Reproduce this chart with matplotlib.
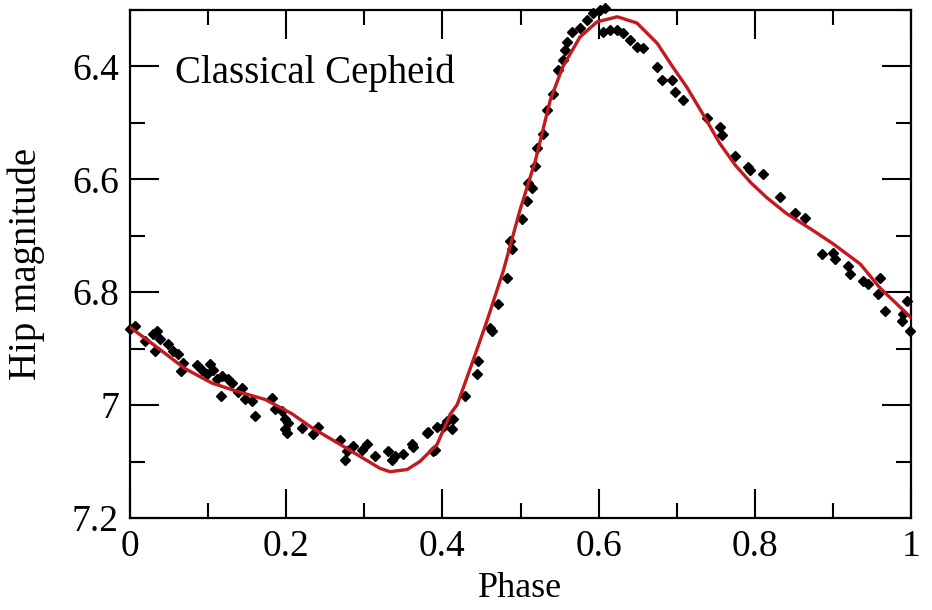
import numpy as np
import matplotlib
matplotlib.use("Agg")
from matplotlib import pyplot as plt
from matplotlib.ticker import MultipleLocator

obs_phase = [0.000, 0.006, 0.019, 0.029, 0.035, 0.032, 0.038, 0.049, 0.055, 0.061,
             0.065, 0.068, 0.086, 0.092, 0.099, 0.102, 0.106, 0.111, 0.118, 0.125,
             0.131, 0.117, 0.138, 0.143, 0.147, 0.156, 0.160, 0.182, 0.186, 0.195,
             0.198, 0.202, 0.198, 0.201,
             0.220, 0.234, 0.241, 0.269, 0.275, 0.278, 0.286, 0.297, 0.303, 0.314,
             0.330, 0.335, 0.339, 0.350, 0.361, 0.362, 0.380, 0.388, 0.393, 0.401,
             0.382, 0.391,
             0.406, 0.414, 0.412, 0.429, 0.444, 0.446, 0.461, 0.464, 0.471, 0.483,
             0.487, 0.489, 0.502, 0.508, 0.510, 0.515, 0.519, 0.521, 0.529, 0.534,
             0.542,
             0.548, 0.554, 0.557, 0.560, 0.566, 0.576, 0.585, 0.593, 0.602, 0.608,
             0.606, 0.615, 0.624, 0.631, 0.640, 0.649, 0.657, 0.675, 0.681, 0.694,
             0.698, 0.708,
             0.739, 0.755, 0.758, 0.775, 0.791, 0.794, 0.810, 0.832, 0.851, 0.864,
             0.886, 0.900, 0.903, 0.919, 0.922, 0.939, 0.945, 0.960, 0.958, 0.967,
             0.988, 0.995, 0.990, 0.999]
obs_mag = [6.865, 6.860, 6.887, 6.874, 6.869, 6.904, 6.883, 6.892, 6.904, 6.910,
           6.940, 6.926, 6.929, 6.937, 6.944, 6.928, 6.937, 6.953, 6.949, 6.954,
           6.961, 6.983, 6.976, 6.970, 6.990, 6.993, 7.020, 6.988, 7.006, 7.011,
           7.025, 7.031, 7.043, 7.050,
           7.041, 7.052, 7.038, 7.061, 7.097, 7.082, 7.073, 7.079, 7.068, 7.091,
           7.082, 7.098, 7.091, 7.086, 7.068, 7.075, 7.050, 7.082, 7.038, 7.038,
           7.047, 7.079,
           7.029, 7.024, 7.043, 6.984, 6.944, 6.922, 6.864, 6.869, 6.821, 6.775,
           6.709, 6.723, 6.670, 6.638, 6.606, 6.615, 6.576, 6.544, 6.519, 6.478,
           6.448,
           6.407, 6.389, 6.371, 6.357, 6.339, 6.332, 6.318, 6.305, 6.300, 6.297,
           6.339, 6.336, 6.336, 6.341, 6.353, 6.366, 6.368, 6.401, 6.424, 6.424,
           6.446, 6.460,
           6.492, 6.508, 6.522, 6.558, 6.579, 6.584, 6.590, 6.632, 6.659, 6.668,
           6.732, 6.730, 6.741, 6.753, 6.768, 6.780, 6.785, 6.775, 6.803, 6.833,
           6.851, 6.816, 6.839, 6.869]

# fitted light curve
fit_phase = [0.000, 0.036, 0.070, 0.105, 0.138, 0.173, 0.207, 0.234, 0.278, 0.320,
             0.333, 0.355, 0.371, 0.393, 0.410, 0.419, 0.439, 0.457, 0.478, 0.499,
             0.519, 0.538, 0.554, 0.576, 0.598, 0.624, 0.649, 0.675, 0.695, 0.713,
             0.735, 0.755, 0.775, 0.795, 0.815, 0.840, 0.875, 0.900, 0.935, 0.960,
             1.000]
fit_mag = [6.862, 6.899, 6.935, 6.961, 6.976, 6.990, 7.015, 7.041, 7.077, 7.112,
           7.118, 7.114, 7.100, 7.070, 7.016, 6.999, 6.922, 6.851, 6.762, 6.656,
           6.567, 6.460, 6.401, 6.348, 6.321, 6.312, 6.323, 6.359, 6.401, 6.437,
           6.488, 6.536, 6.575, 6.606, 6.632, 6.660, 6.691, 6.714, 6.750, 6.792,
           6.845]

x_ticks = [0, 0.2, 0.4, 0.6, 0.8, 1.0]
x_labels = ["0", "0.2", "0.4", "0.6", "0.8", "1"]
y_ticks = [6.4, 6.6, 6.8, 7.0, 7.2]
y_labels = ["6.4", "6.6", "6.8", "7", "7.2"]

plt.rcParams["font.family"] = ["Liberation Serif", "DejaVu Serif"]

fig = plt.figure(figsize=(9.32, 6.10), dpi=100)
ax = fig.add_axes([0.1395, 0.1508, 0.838, 0.8328])

ax.plot(obs_phase, obs_mag, linestyle="none", marker="D", markersize=5.5,
        color="black", clip_on=False, zorder=2)
ax.plot(fit_phase, fit_mag, color="#c41a1f", linewidth=2.4, zorder=3)

ax.set_xlim(0, 1)
ax.set_ylim(7.2, 6.3)
ax.set_xticks(x_ticks)
ax.set_xticklabels(x_labels)
ax.set_yticks(y_ticks)
ax.set_yticklabels(y_labels)
ax.xaxis.set_minor_locator(MultipleLocator(0.1))
ax.yaxis.set_minor_locator(MultipleLocator(0.1))
ax.tick_params(which="both", direction="in", top=True, right=True, width=1.5,
               labelsize=27)
ax.tick_params(which="major", length=21, pad=8)
ax.tick_params(which="minor", length=11)
for s in ax.spines.values():
    s.set_linewidth(1.6)

ax.set_xlabel("Phase", fontsize=26)
ax.set_ylabel("Hip magnitude", fontsize=28)
ax.xaxis.set_label_coords(0.5, -0.106)
ax.yaxis.set_label_coords(-0.109, 0.5)
ax.text(0.057, 0.856, "Classical Cepheid", transform=ax.transAxes,
        fontsize=28, va="baseline", ha="left")

fig.savefig("out.png", dpi=100)
